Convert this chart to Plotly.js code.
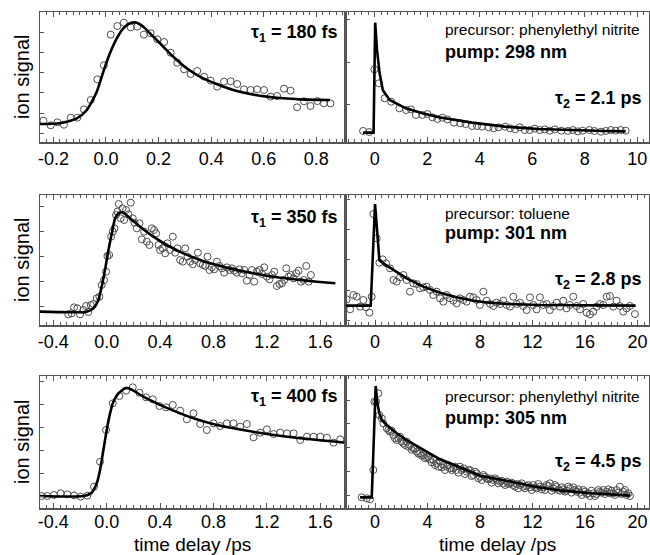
<!DOCTYPE html>
<html><head><meta charset="utf-8">
<script src="https://cdn.plot.ly/plotly-3.0.1.min.js"></script>
<style>html,body{margin:0;padding:0;background:#fff;overflow:hidden}</style>
</head><body><div id="chart" style="width:650px;height:555px"></div>
<div id="dbg" style="position:absolute;left:40px;top:150px;width:600px;background:#ffe;font:10px monospace;white-space:pre-wrap;z-index:10;display:none"></div>
<script>
// ---------- Row 1 (phenylethyl nitrite, 298 nm) ----------
const p1DataX = [-0.238,-0.210,-0.185,-0.160,-0.134,-0.109,-0.084,-0.058,-0.033,-0.008,0.018,0.043,0.068,0.094,0.119,0.144,0.170,0.195,0.221,0.246,0.271,0.297,0.322,0.347,0.373,0.398,0.423,0.449,0.474,0.499,0.525,0.550,0.575,0.601,0.626,0.651,0.677,0.702,0.727,0.753,0.778,0.804,0.829,0.854];
const p1DataY = [16.4,12.8,15.1,13.3,18.7,18.7,25.1,32.3,48.2,59.0,82.6,89.2,91.8,88.2,88.7,82.6,83.6,79.0,76.9,68.7,61.0,55.9,52.3,54.6,50.3,47.2,42.6,46.4,46.7,44.6,40.5,40.0,40.5,40.0,34.9,35.4,41.0,39.5,26.7,31.3,27.7,31.5,29.7,29.7];
const p1FitX = [-0.251,-0.175,-0.111,-0.073,-0.035,-0.010,0.015,0.041,0.066,0.091,0.117,0.142,0.180,0.218,0.256,0.307,0.357,0.421,0.484,0.548,0.611,0.674,0.738,0.852];
const p1FitY = [13.8,14.4,18.2,24.6,38.7,54.1,68.2,79.7,87.4,91.3,91.8,88.7,81.0,73.3,65.6,56.7,50.3,44.6,40.0,36.9,34.9,33.6,32.8,32.3];

const p2DataX = [-0.44,-0.21,-0.01,0.16,0.38,0.63,0.94,1.20,1.38,1.57,1.82,2.01,2.20,2.39,2.58,2.77,3.02,3.27,3.46,3.71,3.90,4.09,4.34,4.53,4.72,4.97,5.16,5.35,5.53,5.72,5.91,6.10,6.29,6.48,6.67,6.86,7.11,7.36,7.55,7.74,7.92,8.18,8.37,8.62,8.81,9.00,9.18,9.37,9.56];
const p2DataY = [8.5,7.7,55.9,45.1,33.6,31.0,25.9,24.6,25.1,20.8,20.8,21.5,19.0,17.7,18.7,17.4,14.9,14.4,13.8,12.3,12.3,11.8,11.3,10.5,11.3,11.8,10.5,9.7,11.3,9.2,9.2,10.3,9.2,9.7,8.7,9.7,8.7,8.5,9.2,8.2,8.7,9.2,8.5,7.9,8.5,9.2,8.7,9.2,8.7];
const p2FitX = [-0.44,-0.04,0.02,0.09,0.19,0.31,0.57,1.19,1.82,2.45,3.71,4.97,6.23,7.49,8.74,9.56];
const p2FitY = [7.2,7.2,91.8,70.8,52.8,40.0,32.3,25.9,22.1,19.0,14.9,11.8,10.0,9.0,8.5,8.2];

// ---------- Row 2 (toluene, 301 nm) ----------
const p3DataX = [-0.288,-0.263,-0.245,-0.22,-0.20,-0.175,-0.155,-0.138,-0.12,-0.10,-0.075,-0.055,-0.038,-0.02,-0.005,0.005,0.018,0.033,0.045,0.058,0.07,0.08,0.09,0.105,0.118,0.13,0.145,0.163,0.18,0.195,0.208,0.225,0.245,0.263,0.28,0.30,0.32,0.338,0.355,0.37,0.388,0.40,0.418,0.438,0.455,0.475,0.495,0.513,0.53,0.55,0.57,0.588,0.605,0.625,0.645,0.663,0.683,0.70,0.72,0.738,0.755,0.77,0.788,0.805,0.825,0.845,0.863,0.88,0.90,0.92,0.938,0.955,0.975,0.995,1.013,1.03,1.05,1.07,1.088,1.105,1.125,1.145,1.163,1.18,1.20,1.22,1.238,1.255,1.275,1.295,1.313,1.33,1.345,1.363,1.38,1.40,1.42,1.438,1.455,1.475,1.495,1.513,1.53];
const p3DataY = [8.0,8.75,13.25,12.5,8.0,11.25,14.25,9.75,15.0,15.75,20.0,21.25,30.0,33.75,40.0,51.75,52.5,66.25,70.0,72.5,82.5,85.0,90.75,80.0,87.5,78.75,86.25,83.0,91.75,80.0,76.75,72.5,76.25,64.25,70.0,62.5,60.0,72.5,71.25,68.75,60.0,56.25,57.5,53.75,61.25,56.25,66.25,54.25,57.5,48.75,47.5,57.5,51.25,47.5,45.5,48.75,54.25,46.25,45.0,44.25,51.25,41.25,43.25,41.75,47.5,44.25,42.5,39.25,43.25,41.25,42.5,40.75,39.25,41.75,38.75,41.25,33.25,37.5,41.25,32.5,40.0,41.25,38.25,43.25,36.25,34.25,37.5,40.0,29.25,30.75,31.25,33.75,42.5,36.25,37.5,35.0,38.75,40.75,32.5,33.75,44.25,32.5,37.5];
const p3FitX = [-0.50,-0.15,-0.10,-0.063,-0.038,-0.013,0.013,0.038,0.063,0.088,0.113,0.138,0.175,0.25,0.35,0.45,0.575,0.70,0.825,0.95,1.075,1.20,1.325,1.45,1.575,1.713];
const p3FitY = [10,10,12.5,18.75,28.75,41.25,56.25,68.75,80,83.75,84.5,83.25,80,73.75,66.25,60,53.75,48.75,45,41.75,39.25,37,35.25,33.75,32.5,31.25];

const p4DataX = [-2.16,-1.90,-1.65,-1.40,-1.14,-0.89,-0.69,-0.43,-0.25,-0.13,0.13,0.33,0.58,0.84,1.14,1.40,1.65,1.90,2.16,2.41,2.66,2.92,3.17,3.43,3.68,3.93,4.19,4.44,4.70,4.95,5.20,5.46,5.71,5.96,6.22,6.47,6.73,6.98,7.23,7.49,7.74,7.99,8.25,8.50,8.76,9.01,9.26,9.52,9.77,10.03,10.28,10.53,10.79,11.04,11.29,11.55,11.80,12.06,12.31,12.56,12.82,13.07,13.32,13.58,13.83,14.09,14.34,14.59,14.85,15.10,15.36,15.61,15.86,16.12,16.37,16.62,16.88,17.13,17.39,17.64,17.89,18.15,18.40,18.65,18.91,19.16,19.42,19.80];
const p4DataY = [19.25,11.75,22.5,21.25,13.75,18.75,13.25,9.25,21.25,83.25,65,46.75,49.25,46.25,42.5,33.75,32.5,35.75,37.5,33.75,25,31.25,30.75,27.5,28.25,28.75,26.25,22.5,25,20,17.5,22.5,20,18.25,16.25,20,18.75,17.5,21.25,20.75,18.75,15,25,18.25,15.75,14.25,16.75,15.75,18.25,15,13.75,21.25,15.75,16.75,14.25,11.25,20.75,15,11.75,20.75,15,15.75,11.25,14.25,16.75,13.75,18.25,12.5,15,21.25,14.25,11.75,15.75,9.25,8,10,13.75,15.75,15,21.25,21.75,13.75,18.25,14.25,10,12.5,14.25,8.25];
const p4FitX = [-2.4,-0.33,0.0,0.18,0.33,0.63,1.40,2.41,3.68,4.95,6.22,7.49,8.76,10.03,12.56,15.10,19.85];
const p4FitY = [14.5,14.5,90.75,68.75,48.75,46.25,41.25,35,28.75,24.25,20.75,18.25,16.75,15.75,15.0,14.75,14.5];

// ---------- Row 3 (phenylethyl nitrite, 305 nm) ----------
const p5DataX = [-0.488,-0.445,-0.395,-0.345,-0.295,-0.245,-0.195,-0.145,-0.095,-0.05,-0.005,0.045,0.095,0.145,0.195,0.245,0.295,0.345,0.395,0.445,0.495,0.55,0.60,0.65,0.70,0.75,0.80,0.85,0.90,0.95,1.00,1.05,1.10,1.15,1.20,1.25,1.30,1.35,1.40,1.45,1.50,1.55,1.60,1.65,1.70,1.75];
const p5DataY = [9,9,9.75,11,10.25,9.5,8.5,9.25,16,34.75,58.5,78.5,84,88,90.5,86.5,83,81.5,76.5,75.5,77.25,73,66.5,71,63,58.5,63.5,61.5,63.5,63.5,61,63,53,56.5,59,55.5,56.5,56,56,51,53.5,53.5,53.5,52.75,49,51.5];
const p5FitX = [-0.50,-0.175,-0.113,-0.075,-0.05,-0.025,0.0,0.025,0.05,0.088,0.138,0.163,0.20,0.275,0.375,0.50,0.65,0.825,0.95,1.20,1.45,1.788];
const p5FitY = [9,9,11.5,18.5,28.5,43.5,58.5,71,79.75,86,89.75,89.75,88,83.5,78.5,73,67.25,62.25,59.75,55.5,52.25,49];

const p6DataX = [-1.02,-0.63,-0.38,-0.13,-0.05,0.08,0.25,0.33,0.51,0.63,0.89,1.14,1.40,1.65,1.90,2.16,2.41,2.66,2.92,3.17,3.43,3.68,3.93,4.19,4.44,4.70,4.95,5.20,5.46,5.71,5.96,6.22,6.47,6.73,6.98,7.23,7.49,7.74,7.99,8.25,8.50,8.76,9.01,9.26,9.52,9.77,10.03,10.28,10.53,10.79,11.04,11.29,11.55,11.80,12.06,12.31,12.56,12.82,13.07,13.32,13.58,13.83,14.09,14.34,14.59,14.85,15.10,15.36,15.61,15.86,16.12,16.37,16.62,16.88,17.13,17.39,17.64,17.89,18.15,18.40,18.65,18.91,19.16,19.42,
  1.02,1.27,1.52,1.78,2.03,2.28,2.54,2.79,3.05,3.30,3.55,3.81,4.06,4.31,4.57,4.82,5.08,5.33,5.58,5.84,6.09,6.35,6.60,6.85,7.11,7.36,7.61,7.87,8.12,8.38,8.63,8.88,9.14,9.39,9.64,9.90,10.15,10.41,10.66,10.91,11.17,11.42,11.68,11.93,12.18,12.44,12.69,12.94,13.20,13.45,13.71,13.96,14.21,14.47,14.72,14.97,15.23,15.48,15.74,15.99,16.24,16.50,16.75,17.01,17.26,17.51,17.77,18.02,18.27,18.53,18.78,19.04,19.29];
const p6DataY = [8,7.25,6.5,28.5,79.75,79.75,86,69.75,67.25,63.5,59.75,57.25,54.75,51,53.5,48.5,49.75,47.25,44.75,42.25,41,39.75,38,36.5,36,33.5,34.75,32.25,31,29.75,29.75,28.5,31,29.75,27.25,28.5,24.75,26,23.5,24.75,22.25,22.25,21,21,19.75,18.5,19.75,18.5,17.25,18,17.25,16,16.5,15.5,17.25,14.75,16,15.5,17.25,18.5,14.75,16,13,14,13,14.75,15.5,12.25,11.5,13.5,10.5,9,11,10.5,12.25,13.5,12.25,11,11,13.5,16,12.25,9.75,9,
  58.5,58,52.25,52.25,49.75,47.25,46,43.75,44.25,40.75,39.25,37.25,38.5,34.25,32.25,31,30.5,28.5,32.25,28.5,31,26.5,28.5,25.5,28.5,24,27.25,22.25,21,23.5,21.5,19,22.25,18.5,20.5,17.25,18,19,16,14.75,18.5,14.75,17.25,13.5,15.5,18,14,13.5,16.5,13,17.25,13.5,15.5,12.25,16,11.5,13.5,14,9.75,12.25,11,13,9,13.5,11.5,10.5,14,13,9.75,11.5,10.5,13.5,11];
const p6FitX = [-1.14,-0.25,0.05,0.18,0.33,0.51,0.89,1.65,2.41,3.68,4.95,6.22,8.05,10.03,12.18,14.21,16.24,19.42];
const p6FitY = [8,8,91.5,78.5,71,66,62.25,56,51,43.5,36.5,31.5,24,20.5,16,13,11.25,9.25];

// ---------- tick labels ----------
const tickShortA = [-0.2,0.0,0.2,0.4,0.6,0.8];
const tickShortAText = ['-0.2','0.0','0.2','0.4','0.6','0.8'];
const tickShortB = [-0.4,0.0,0.4,0.8,1.2,1.6];
const tickShortBText = ['-0.4','0.0','0.4','0.8','1.2','1.6'];
const tickLongA = [0,2,4,6,8,10];
const tickLongAText = ['0','2','4','6','8','10'];
const tickLongB = [0,4,8,12,16,20];
const tickLongBText = ['0','4','8','12','16','20'];

// ---------- labels ----------
const tauLabels = ['τ<sub>1</sub> = 180 fs','τ<sub>1</sub> = 350 fs','τ<sub>1</sub> = 400 fs'];
const tau2Labels = ['τ<sub>2</sub> = 2.1 ps','τ<sub>2</sub> = 2.8 ps','τ<sub>2</sub> = 4.5 ps'];
const precursors = ['precursor: phenylethyl nitrite','precursor: toluene','precursor: phenylethyl nitrite'];
const pumps = ['pump: 298 nm','pump: 301 nm','pump: 305 nm'];
const yTitle = 'ion signal';
const xTitle = 'time delay /ps';

const FONT = '"Liberation Sans", Arial, Helvetica, sans-serif';
const W = 650, H = 555;
const colL = [40/W, 345.5/W], colR = [345.5/W, 649/W];
const rows = [[1-142/H, 1-12/H],[1-325/H, 1-195/H],[1-508/H, 1-376/H]];

const panels = [
  {dx:p1DataX, dy:p1DataY, fx:p1FitX, fy:p1FitY, col:colL, row:0, xr:[-0.251,0.911], yr:[0,100], tv:tickShortA, tt:tickShortAText, minor:0.025, yt0:6.9, ydt:15.4, shape:'spline'},
  {dx:p2DataX, dy:p2DataY, fx:p2FitX, fy:p2FitY, col:colR, row:0, xr:[-1.11,10.45], yr:[0,100], tv:tickLongA, tt:tickLongAText, minor:0.25, yt0:28.5, ydt:33, shape:'linear'},
  {dx:p3DataX, dy:p3DataY, fx:p3FitX, fy:p3FitY, col:colL, row:1, xr:[-0.50,1.789], yr:[0,97.5], tv:tickShortB, tt:tickShortBText, minor:0.05, yt0:14.25, ydt:18.75, shape:'spline'},
  {dx:p4DataX, dy:p4DataY, fx:p4FitX, fy:p4FitY, col:colR, row:1, xr:[-2.25,20.87], yr:[0,97.5], tv:tickLongB, tt:tickLongBText, minor:0.5, yt0:3.5, ydt:22.75, shape:'linear'},
  {dx:p5DataX, dy:p5DataY, fx:p5FitX, fy:p5FitY, col:colL, row:2, xr:[-0.50,1.789], yr:[0,99], tv:tickShortB, tt:tickShortBText, minor:0.05, yt0:9, ydt:17.2, shape:'spline'},
  {dx:p6DataX, dy:p6DataY, fx:p6FitX, fy:p6FitY, col:colR, row:2, xr:[-2.25,20.87], yr:[0,99], tv:tickLongB, tt:tickLongBText, minor:0.5, yt0:9.75, ydt:17.8, shape:'linear'}
];

const traces = [];
const layout = {
  width: W, height: H, margin:{l:0,r:0,t:0,b:0},
  paper_bgcolor:'#fff', plot_bgcolor:'#fff', showlegend:false,
  font:{family:FONT, color:'#000'},
  annotations: []
};

panels.forEach((p, i) => {
  const n = i === 0 ? '' : String(i+1);
  traces.push({x:p.dx, y:p.dy, xaxis:'x'+n, yaxis:'y'+n, type:'scatter', mode:'markers',
    marker:{symbol:'circle-open', size:7, color:'#4d4d4d', line:{width:1}}, cliponaxis:true, hoverinfo:'skip'});
  traces.push({x:p.fx, y:p.fy, xaxis:'x'+n, yaxis:'y'+n, type:'scatter', mode:'lines',
    line:{color:'#000', width:2.6, shape:p.shape, smoothing:0.6}, hoverinfo:'skip'});
  layout['xaxis'+n] = {
    domain:p.col, anchor:'y'+n, range:p.xr, showgrid:false, zeroline:false,
    showline:true, linecolor:'#555', linewidth:1.5, mirror:'ticks',
    ticks:'inside', ticklen:5, tickwidth:1, tickcolor:'#555',
    tickmode:'array', tickvals:p.tv, ticktext:p.tt, ticklabeloverflow:'allow',
    tickfont:{size:18, family:FONT, color:'#000'},
    minor:{ticks:'inside', ticklen:3, tickwidth:1, tickcolor:'#555', tickmode:'linear', tick0:0, dtick:p.minor, showgrid:false}
  };
  if (p.row === 2) layout['xaxis'+n].ticklabelstandoff = -3;
  layout['yaxis'+n] = {
    domain:rows[p.row], anchor:'x'+n, range:p.yr, showgrid:false, zeroline:false,
    showline:true, linecolor:'#555', linewidth:1.5, mirror:true,
    ticks:'inside', ticklen:4, tickwidth:1, tickcolor:'#555',
    tickmode:'linear', tick0:p.yt0, dtick:p.ydt, showticklabels:false
  };
});

const rowTauY = [1-33/H, 1-218/H, 1-397/H];
const rowPrecY = [1-29/H, 1-213/H, 1-396/H];
const rowPumpY = [1-52/H, 1-233/H, 1-418/H];
const rowTau2Y = [1-100/H, 1-280/H, 1-462/H];
const rowMidY = [1-77/H, 1-260/H, 1-442/H];

for (let r = 0; r < 3; r++) {
  layout.annotations.push({xref:'paper', yref:'paper', x:340/W, y:rowTauY[r], xanchor:'right', yanchor:'middle', showarrow:false,
    text:'<b>'+tauLabels[r]+'</b>', font:{size:18, family:FONT, color:'#000'}});
  layout.annotations.push({xref:'paper', yref:'paper', x:443/W, y:rowPrecY[r], xanchor:'left', yanchor:'middle', showarrow:false,
    text:precursors[r], font:{size:15.5, family:FONT, color:'#000'}});
  layout.annotations.push({xref:'paper', yref:'paper', x:443/W, y:rowPumpY[r], xanchor:'left', yanchor:'middle', showarrow:false,
    text:'<b>'+pumps[r]+'</b>', font:{size:18, family:FONT, color:'#000'}});
  layout.annotations.push({xref:'paper', yref:'paper', x:644/W, y:rowTau2Y[r], xanchor:'right', yanchor:'middle', showarrow:false,
    text:'<b>'+tau2Labels[r]+'</b>', font:{size:18, family:FONT, color:'#000'}});
  layout.annotations.push({xref:'paper', yref:'paper', x:22/W, y:rowMidY[r], xanchor:'center', yanchor:'middle', showarrow:false,
    textangle:-90, text:yTitle, font:{size:20, family:FONT, color:'#000'}});
}
layout.annotations.push({xref:'paper', yref:'paper', x:192/W, y:1-544/H, xanchor:'center', yanchor:'middle', showarrow:false,
  text:xTitle, font:{size:19, family:FONT, color:'#000'}});
layout.annotations.push({xref:'paper', yref:'paper', x:497/W, y:1-544/H, xanchor:'center', yanchor:'middle', showarrow:false,
  text:xTitle, font:{size:19, family:FONT, color:'#000'}});

function unhideTicks() {
  document.querySelectorAll('g.xaxislayer-above text').forEach(t => {
    if (t.style.display === 'none') t.style.display = '';
  });
}
function report() {
  const labels = Array.from(document.querySelectorAll('g.x2tick text'));
  const ten = labels.find(t => t.textContent === '10');
  const ok = ten && ten.getBoundingClientRect().width > 0;
  if (ok) return;
  let out = 'x2 labels: ' + labels.map(t => {
    const b = t.getBoundingClientRect();
    return '"' + t.textContent + '" d=' + (t.style.display||'-') + ' w=' + b.width.toFixed(1) + ' l=' + b.left.toFixed(0) + ' tr=' + (t.getAttribute('transform')||'') + ' op=' + (t.getAttribute('opacity')||t.style.opacity||'-');
  }).join('\n') + '\n';
  const zero = Array.from(document.querySelectorAll('svg text')).filter(t => t.getBoundingClientRect().width === 0);
  out += 'zero-size: ' + zero.map(t => (t.parentNode.getAttribute('class')||'') + ':"' + t.textContent + '"').join(' ; ');
  const d = document.getElementById('dbg'); d.textContent = out; d.style.display = 'block';
}
Plotly.newPlot('chart', traces, layout, {staticPlot:true, displayModeBar:false}).then(gd => {
  unhideTicks();
  report();
  new MutationObserver(unhideTicks).observe(gd, {subtree:true, attributes:true, attributeFilter:['style']});
  setTimeout(() => { unhideTicks(); report(); }, 200);
});
</script></body></html>
